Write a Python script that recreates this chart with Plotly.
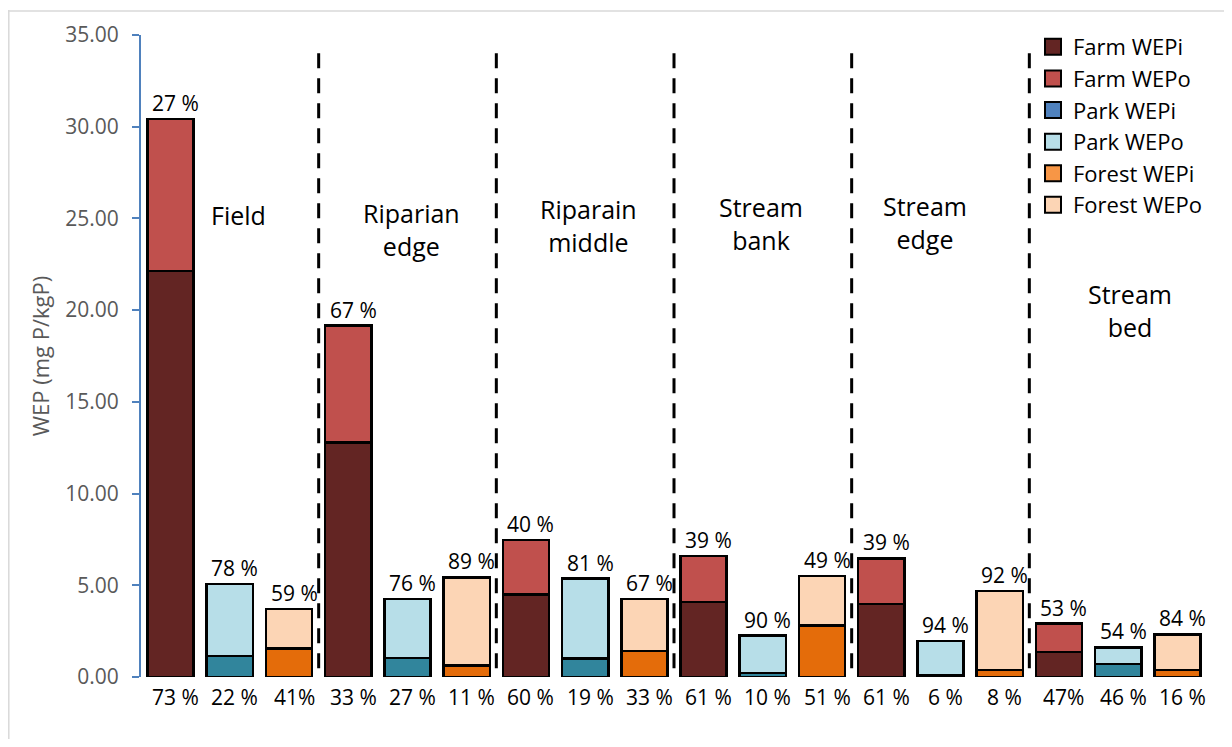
import plotly.graph_objects as go

# ---------------- data ----------------
groups = ["Field", "Riparian<br>edge", "Riparain<br>middle", "Stream<br>bank", "Stream<br>edge", "Stream<br>bed"]
land_uses = ["Farm", "Park", "Forest"]

farm_wepi = [22.14, 12.79, 4.51, 4.08, 3.97, 1.36]
farm_wepo = [8.29, 6.36, 2.95, 2.53, 2.50, 1.55]
park_wepi = [1.14, 1.03, 1.01, 0.23, 0.12, 0.72]
park_wepo = [3.93, 3.21, 4.35, 2.03, 1.85, 0.89]
forest_wepi = [1.55, 0.63, 1.41, 2.80, 0.38, 0.38]
forest_wepo = [2.15, 4.80, 2.83, 2.71, 4.31, 1.94]

top_pct = ["27 %", "78 %", "59 %", "67 %", "76 %", "89 %", "40 %", "81 %", "67 %",
           "39 %", "90 %", "49 %", "39 %", "94 %", "92 %", "53 %", "54 %", "84 %"]
bottom_pct = ["73 %", "22 %", "41%", "33 %", "27 %", "11 %", "60 %", "19 %", "33 %",
              "61 %", "10 %", "51 %", "61 %", "6 %", "8 %", "47%", "46 %", "16 %"]

y_ticks = [0, 5, 10, 15, 20, 25, 30, 35]

# ---------------- styling ----------------
bar_colors = {
    "Farm WEPi": "#632523", "Farm WEPo": "#C0504D",
    "Park WEPi": "#31859C", "Park WEPo": "#B7DEE8",
    "Forest WEPi": "#E46C0A", "Forest WEPo": "#FCD5B5",
}
legend_colors = {
    "Farm WEPi": "#632523", "Farm WEPo": "#C0504D",
    "Park WEPi": "#4F81BD", "Park WEPo": "#B7DEE8",
    "Forest WEPi": "#F79646", "Forest WEPo": "#FCD5B5",
}
FONT = "Open Sans"
W, H = 1216, 731          # page body has an 8px margin
OFF = 8
ML, MR, MT, MB = 133, 17, 25, 62
PW = W - ML - MR
PH = H - MT - MB

def px_x(page_x):
    return (page_x - OFF - ML) / PW

def px_y(page_y):
    return (OFF + MT + PH - page_y) / PH

n_groups = len(groups)
series = {
    "Farm": (farm_wepi, farm_wepo),
    "Park": (park_wepi, park_wepo),
    "Forest": (forest_wepi, forest_wepo),
}

fig = go.Figure()
for k, lu in enumerate(land_uses):
    wepi, wepo = series[lu]
    xs = [3 * g + k for g in range(n_groups)]
    for part, vals in (("WEPi", wepi), ("WEPo", wepo)):
        name = f"{lu} {part}"
        fig.add_trace(go.Bar(
            x=xs, y=vals, name=name, width=0.78, showlegend=False,
            marker=dict(color=bar_colors[name], line=dict(color="black", width=2.5)),
            hoverinfo="name+y",
        ))

# legend-only entries
for name in ["Farm WEPi", "Farm WEPo", "Park WEPi", "Park WEPo", "Forest WEPi", "Forest WEPo"]:
    fig.add_trace(go.Scatter(
        x=[None], y=[None], mode="markers", name=name,
        marker=dict(symbol="square", size=16, color=legend_colors[name],
                    line=dict(color="black", width=2)),
    ))

annotations = []
for g in range(n_groups):
    for k, lu in enumerate(land_uses):
        wepi, wepo = series[lu]
        i = 3 * g + k
        total = wepi[g] + wepo[g]
        annotations.append(dict(x=i, y=total, text=top_pct[i], showarrow=False,
                                yanchor="bottom", yshift=0, xshift=5,
                                font=dict(family=FONT, size=21, color="black")))
        annotations.append(dict(x=i, y=0, text=bottom_pct[i], showarrow=False,
                                yanchor="top", yshift=-4, xshift=5,
                                font=dict(family=FONT, size=21, color="black")))

group_label_xy = [(1.15, 25.2), (4.06, 24.4), (7.05, 24.6), (9.97, 24.7), (12.74, 24.8), (16.2, 20.0)]
for lbl, (gx, gy) in zip(groups, group_label_xy):
    annotations.append(dict(x=gx, y=gy, text=lbl, showarrow=False,
                            xanchor="center", yanchor="middle",
                            font=dict(family=FONT, size=25, color="black")))

shapes = []
for g in range(1, n_groups):
    shapes.append(dict(type="line", xref="x", yref="y", x0=3 * g - 0.5, x1=3 * g - 0.5,
                       y0=34.0, y1=0.3, line=dict(color="black", width=3, dash="15px,10px")))
# chart frame (top and left edges visible)
shapes.append(dict(type="line", xref="paper", yref="paper", x0=px_x(8), x1=px_x(1240),
                   y0=px_y(8.8), y1=px_y(8.8), line=dict(color="#D9D9D9", width=1.5)))
shapes.append(dict(type="line", xref="paper", yref="paper", x0=px_x(8.8), x1=px_x(8.8),
                   y0=px_y(8), y1=px_y(760), line=dict(color="#D9D9D9", width=1.5)))

fig.update_layout(
    width=W, height=H,
    margin=dict(l=ML, r=MR, t=MT, b=MB),
    barmode="stack",
    plot_bgcolor="white", paper_bgcolor="white",
    font=dict(family=FONT, color="#595959"),
    annotations=annotations,
    shapes=shapes,
    legend=dict(x=px_x(1033), y=px_y(24), xanchor="left", yanchor="top",
                traceorder="normal", bgcolor="rgba(0,0,0,0)",
                font=dict(family=FONT, size=22, color="black")),
    xaxis=dict(range=[-0.5, 17.5], showticklabels=False, showgrid=False,
               zeroline=False, showline=False, ticks=""),
    yaxis=dict(range=[0, 35], tickvals=y_ticks, tickformat=".2f",
               showgrid=False, zeroline=False,
               showline=True, linecolor="#4F81BD", linewidth=2,
               ticks="outside", ticklen=7, tickwidth=2, tickcolor="#4F81BD",
               ticklabelstandoff=9,
               tickfont=dict(family=FONT, size=21, color="#595959"),
               title=dict(text="WEP (mg P/kgP)", standoff=10,
                          font=dict(family=FONT, size=22, color="#595959"))),
)

fig.write_html("out.html")
